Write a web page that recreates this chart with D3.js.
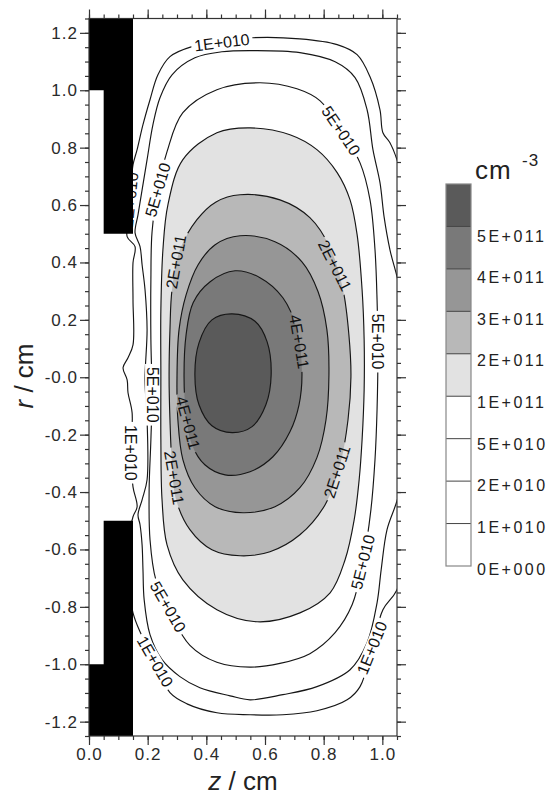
<!DOCTYPE html>
<html>
<head>
<meta charset="utf-8">
<script src="https://cdn.jsdelivr.net/npm/d3@7"></script>
<style>
  html, body { margin: 0; padding: 0; background: #fff; }
  svg { display: block; }
  text { font-family: "Liberation Sans", Arial, Helvetica, sans-serif; }
</style>
</head>
<body>
<svg id="chart" width="552" height="797"></svg>
<script>
// ---- Axis ticks ----
const zTicks = [0, 0.2, 0.4, 0.6, 0.8, 1.0];
const zTickLabels = ["0.0", "0.2", "0.4", "0.6", "0.8", "1.0"];
const rTicks = [-1.2, -1.0, -0.8, -0.6, -0.4, -0.2, 0, 0.2, 0.4, 0.6, 0.8, 1.0, 1.2];
const rTickLabels = ["-1.2", "-1.0", "-0.8", "-0.6", "-0.4", "-0.2", "-0.0", "0.2", "0.4", "0.6", "0.8", "1.0", "1.2"];

// ---- Density levels (cm^-3) and colour key ----
const legendLevels = [0, 1e10, 2e10, 5e10, 1e11, 2e11, 3e11, 4e11, 5e11];
const legendLabels = ["0E+000", "1E+010", "2E+010", "5E+010", "1E+011", "2E+011", "3E+011", "4E+011", "5E+011"];
const shadeSteps = [1e11, 2e11, 3e11, 4e11, 5e11];
const shades = ["#ffffff", "#e2e2e2", "#b8b8b8", "#969696", "#797979", "#5a5a5a"];

// ---- Iso-density contours, [z, r] in cm ----
const c1e10 = [[0.559,1.183],[0.719,1.179],[0.846,1.159],[0.914,1.124],[0.958,1.047],[0.992,0.932],[1.002,0.852],[1.026,0.817],[1.050,0.758],[1.129,0.444],[1.146,0.002],[1.129,-0.427],[1.050,-0.740],[1.002,-0.810],[0.965,-0.943],[0.924,-1.078],[0.880,-1.124],[0.777,-1.162],[0.661,-1.176],[0.549,-1.176],[0.436,-1.169],[0.334,-1.138],[0.276,-1.099],[0.225,-0.991],[0.174,-0.887],[0.150,-0.821],[0.133,-0.706],[0.133,-0.566],[0.150,-0.486],[0.164,-0.451],[0.150,-0.382],[0.143,-0.263],[0.147,-0.124],[0.133,-0.054],[0.130,-0.009],[0.116,0.033],[0.133,0.068],[0.150,0.113],[0.150,0.270],[0.150,0.399],[0.157,0.455],[0.130,0.490],[0.140,0.584],[0.143,0.653],[0.150,0.740],[0.164,0.793],[0.184,0.880],[0.208,0.967],[0.235,1.054],[0.276,1.117],[0.351,1.152],[0.453,1.169]];
const c2e10 = [[0.559,1.138],[0.719,1.131],[0.839,1.099],[0.907,1.044],[0.948,0.932],[0.968,0.793],[0.992,0.678],[1.006,0.559],[1.026,0.444],[1.060,0.305],[1.094,0.002],[1.077,-0.253],[1.054,-0.416],[1.016,-0.531],[0.996,-0.671],[0.982,-0.786],[0.948,-0.925],[0.890,-1.019],[0.777,-1.078],[0.661,-1.106],[0.549,-1.124],[0.481,-1.110],[0.378,-1.082],[0.310,-1.043],[0.249,-0.984],[0.208,-0.897],[0.188,-0.775],[0.184,-0.671],[0.181,-0.584],[0.174,-0.514],[0.167,-0.479],[0.181,-0.427],[0.198,-0.357],[0.198,-0.148],[0.191,-0.009],[0.198,0.166],[0.191,0.305],[0.181,0.392],[0.174,0.455],[0.157,0.503],[0.167,0.566],[0.181,0.653],[0.198,0.758],[0.218,0.880],[0.242,0.974],[0.283,1.054],[0.361,1.113],[0.453,1.134]];
const c5e10 = [[0.583,1.026],[0.709,1.005],[0.788,0.963],[0.859,0.859],[0.924,0.747],[0.958,0.618],[0.975,0.444],[0.982,0.270],[0.985,0.096],[0.982,-0.113],[0.975,-0.287],[0.961,-0.462],[0.934,-0.644],[0.897,-0.793],[0.839,-0.890],[0.753,-0.963],[0.651,-0.997],[0.549,-1.010],[0.436,-0.993],[0.344,-0.934],[0.276,-0.819],[0.228,-0.706],[0.208,-0.566],[0.205,-0.392],[0.211,-0.218],[0.215,-0.061],[0.211,0.131],[0.211,0.340],[0.215,0.507],[0.235,0.653],[0.266,0.786],[0.320,0.922],[0.436,1.002]];
const c1e11 = [[0.549,0.869],[0.685,0.845],[0.777,0.793],[0.846,0.713],[0.890,0.618],[0.914,0.497],[0.931,0.305],[0.938,0.131],[0.938,-0.044],[0.931,-0.218],[0.921,-0.357],[0.904,-0.497],[0.873,-0.636],[0.822,-0.751],[0.719,-0.821],[0.573,-0.852],[0.436,-0.810],[0.320,-0.706],[0.266,-0.584],[0.249,-0.427],[0.245,-0.218],[0.245,0.002],[0.245,0.235],[0.252,0.444],[0.269,0.601],[0.320,0.758],[0.436,0.852]];
const c2e11 = [[0.515,0.636],[0.651,0.618],[0.753,0.556],[0.822,0.451],[0.866,0.305],[0.886,0.148],[0.893,0.002],[0.883,-0.148],[0.856,-0.305],[0.805,-0.444],[0.719,-0.549],[0.617,-0.608],[0.515,-0.622],[0.419,-0.601],[0.344,-0.531],[0.297,-0.427],[0.283,-0.305],[0.276,-0.148],[0.273,0.002],[0.276,0.166],[0.283,0.305],[0.310,0.444],[0.368,0.549],[0.433,0.611]];
const c3e11 = [[0.515,0.493],[0.634,0.472],[0.726,0.402],[0.781,0.298],[0.811,0.166],[0.818,0.009],[0.808,-0.148],[0.777,-0.280],[0.719,-0.385],[0.634,-0.451],[0.525,-0.472],[0.430,-0.451],[0.361,-0.385],[0.320,-0.287],[0.303,-0.148],[0.300,0.002],[0.307,0.166],[0.331,0.287],[0.372,0.392],[0.430,0.462]];
const c4e11 = [[0.498,0.371],[0.583,0.347],[0.661,0.277],[0.709,0.166],[0.726,0.016],[0.716,-0.096],[0.685,-0.190],[0.627,-0.277],[0.549,-0.329],[0.464,-0.340],[0.395,-0.305],[0.351,-0.235],[0.331,-0.131],[0.324,0.002],[0.331,0.148],[0.355,0.260],[0.413,0.333]];
const c5e11 = [[0.488,0.221],[0.566,0.195],[0.607,0.124],[0.621,0.009],[0.603,-0.096],[0.556,-0.172],[0.488,-0.193],[0.419,-0.169],[0.375,-0.096],[0.361,0.009],[0.375,0.120],[0.419,0.200]];

const contourLevels = [1e10, 2e10, 5e10, 1e11, 2e11, 3e11, 4e11, 5e11];
const contourPaths = [c1e10, c2e10, c5e10, c1e11, c2e11, c3e11, c4e11, c5e11];

// In-line contour labels: level, anchor [z, r], text angle (deg)
const labelLevels = [1e10, 5e10, 5e10, 1e10, 2e11, 2e11, 4e11, 5e10, 5e10, 4e11, 1e10, 2e11, 2e11, 5e10, 1e10, 5e10, 1e10];
const labelAnchors = [[0.453,1.166],[0.859,0.859],[0.235,0.653],[0.140,0.618],[0.297,0.402],[0.838,0.389],[0.716,0.124],[0.982,0.124],[0.215,-0.061],[0.337,-0.159],[0.143,-0.263],[0.290,-0.350],[0.846,-0.329],[0.269,-0.800],[0.225,-0.991],[0.934,-0.644],[0.965,-0.943]];
const labelAngles = [-7, 56, -74, -84, -80, 63, 80, 90, 90, 75, 90, 80, -72, 60, 60, -76, -68];

// Electrode cross-sections, [z, r] in cm
const electrodeTop = [[0,1.25],[0.15,1.25],[0.15,0.5],[0.05,0.5],[0.05,1.0],[0,1.0]];
const electrodeBottom = [[0,-1.25],[0.15,-1.25],[0.15,-0.5],[0.05,-0.5],[0.05,-1.0],[0,-1.0]];

// ---- Drawing ----
const svg = d3.select("#chart");
const x = d3.scaleLinear().domain([0, 1.05]).range([89, 397]);
const y = d3.scaleLinear().domain([-1.25, 1.25]).range([736, 18.5]);
const shade = d3.scaleThreshold().domain(shadeSteps).range(shades);
const levelText = v => legendLabels[legendLevels.indexOf(v)];

const defs = svg.append("defs");
defs.append("clipPath").attr("id", "plotClip")
  .append("rect").attr("x", x(0)).attr("y", y(1.25))
  .attr("width", x(1.05) - x(0)).attr("height", y(-1.25) - y(1.25));

const closedLine = d3.line()
  .x(d => x(d[0])).y(d => y(d[1]))
  .curve(d3.curveCatmullRomClosed.alpha(0.5));

const plot = svg.append("g").attr("clip-path", "url(#plotClip)");

// filled bands (inner contours painted over outer ones)
plot.append("g").selectAll("path")
  .data(contourLevels.map((lv, i) => ({ lv, pts: contourPaths[i] })).filter(d => d.lv >= 1e11))
  .join("path")
  .attr("d", d => closedLine(d.pts))
  .attr("fill", d => shade(d.lv))
  .attr("stroke", "none");

// labels first so their footprints can be cut out of the lines
const labelData = labelLevels.map((lv, i) => ({ lv, p: labelAnchors[i], a: labelAngles[i] }));
const lineLayer = plot.append("g");
const labelLayer = plot.append("g");
const labels = labelLayer.selectAll("text").data(labelData).join("text")
  .attr("transform", d => `translate(${x(d.p[0])},${y(d.p[1])}) rotate(${d.a})`)
  .attr("text-anchor", "middle")
  .attr("dominant-baseline", "central")
  .attr("font-size", 16)
  .attr("fill", "#111")
  .text(d => levelText(d.lv));

const mask = defs.append("mask").attr("id", "labelGaps")
  .attr("maskUnits", "userSpaceOnUse")
  .attr("x", 0).attr("y", 0).attr("width", 552).attr("height", 797);
mask.append("rect").attr("width", 552).attr("height", 797).attr("fill", "#fff");
labels.each(function (d) {
  const w = this.getComputedTextLength() + 6;
  mask.append("rect")
    .attr("transform", `translate(${x(d.p[0])},${y(d.p[1])}) rotate(${d.a})`)
    .attr("x", -w / 2).attr("y", -7).attr("width", w).attr("height", 14)
    .attr("fill", "#000");
});

lineLayer.attr("mask", "url(#labelGaps)")
  .selectAll("path").data(contourPaths).join("path")
  .attr("d", d => closedLine(d))
  .attr("fill", "none")
  .attr("stroke", "#161616")
  .attr("stroke-width", 1.15);

// electrodes
const poly = d3.line().x(d => x(d[0])).y(d => y(d[1]));
plot.append("g").selectAll("path").data([electrodeTop, electrodeBottom]).join("path")
  .attr("d", d => poly(d) + "Z")
  .attr("fill", "#000");

// ---- Axes ----
const minorZ = d3.range(0, 1.0501, 0.05);
const minorR = d3.range(-1.25, 1.2501, 0.05);
const tickStyle = g => {
  g.select(".domain").remove();
  g.selectAll("line").attr("stroke", "#333").attr("stroke-width", 1.2);
  g.selectAll("text").attr("font-size", 17).attr("fill", "#2a2a2a")
    .attr("letter-spacing", "1px")
    .attr("font-family", "'Liberation Sans', Arial, sans-serif");
};

svg.append("g").attr("transform", `translate(${x(0)},0)`)
  .call(d3.axisLeft(y).tickValues(minorR).tickFormat("").tickSize(4)).call(tickStyle);
svg.append("g").attr("transform", `translate(${x(0)},0)`)
  .call(d3.axisLeft(y).tickValues(rTicks).tickFormat((d, i) => rTickLabels[i]).tickSize(9).tickPadding(2))
  .call(tickStyle);
svg.append("g").attr("transform", `translate(${x(1.05)},0)`)
  .call(d3.axisRight(y).tickValues(minorR).tickFormat("").tickSize(4)).call(tickStyle);
svg.append("g").attr("transform", `translate(${x(1.05)},0)`)
  .call(d3.axisRight(y).tickValues(rTicks).tickFormat("").tickSize(9)).call(tickStyle);

svg.append("g").attr("transform", `translate(0,${y(-1.25)})`)
  .call(d3.axisBottom(x).tickValues(minorZ).tickFormat("").tickSize(4)).call(tickStyle);
svg.append("g").attr("transform", `translate(0,${y(-1.25)})`)
  .call(d3.axisBottom(x).tickValues(zTicks).tickFormat((d, i) => zTickLabels[i]).tickSize(9).tickPadding(3))
  .call(tickStyle);
svg.append("g").attr("transform", `translate(0,${y(1.25)})`)
  .call(d3.axisTop(x).tickValues(minorZ).tickFormat("").tickSize(4)).call(tickStyle);
svg.append("g").attr("transform", `translate(0,${y(1.25)})`)
  .call(d3.axisTop(x).tickValues(zTicks).tickFormat("").tickSize(9)).call(tickStyle);

// frame
svg.append("rect")
  .attr("x", x(0)).attr("y", y(1.25))
  .attr("width", x(1.05) - x(0)).attr("height", y(-1.25) - y(1.25))
  .attr("fill", "none").attr("stroke", "#333").attr("stroke-width", 1.2);

// axis titles
const rTitle = svg.append("text")
  .attr("transform", `translate(33,376) rotate(-90)`)
  .attr("text-anchor", "middle").attr("font-size", 26).attr("fill", "#222");
rTitle.append("tspan").attr("font-style", "italic").text("r");
rTitle.append("tspan").text(" / cm");

const zTitle = svg.append("text")
  .attr("x", (x(0) + x(1.05)) / 2).attr("y", 790)
  .attr("text-anchor", "middle").attr("font-size", 26).attr("fill", "#222");
zTitle.append("tspan").attr("font-style", "italic").text("z");
zTitle.append("tspan").text(" / cm");

// ---- Colour key ----
const keyX = 446, keyW = 25;
const keyY = d3.scaleLinear().domain([0, legendLevels.length]).range([566, 184]);
const key = svg.append("g");
key.selectAll("rect.band").data(legendLevels).join("rect")
  .attr("class", "band")
  .attr("x", keyX).attr("width", keyW)
  .attr("y", (d, i) => keyY(i + 1)).attr("height", (d, i) => keyY(i) - keyY(i + 1))
  .attr("fill", d => shade(d));
key.selectAll("line.sep").data(legendLevels.slice(1)).join("line")
  .attr("class", "sep")
  .attr("x1", keyX).attr("x2", keyX + keyW)
  .attr("y1", (d, i) => keyY(i + 1)).attr("y2", (d, i) => keyY(i + 1))
  .attr("stroke", "#444").attr("stroke-width", 1);
key.append("rect")
  .attr("x", keyX).attr("y", keyY(legendLevels.length))
  .attr("width", keyW).attr("height", keyY(0) - keyY(legendLevels.length))
  .attr("fill", "none").attr("stroke", "#888").attr("stroke-width", 1.2);

const keyLabelY = d3.scaleLinear().domain([0, legendLabels.length - 1]).range([569, 236]);
key.selectAll("text.lab").data(legendLabels).join("text")
  .attr("class", "lab")
  .attr("x", 477).attr("y", (d, i) => keyLabelY(i))
  .attr("dominant-baseline", "central")
  .attr("font-size", 16).attr("letter-spacing", "2.5px").attr("fill", "#222")
  .text(d => d);

svg.append("text").attr("x", 475).attr("y", 179)
  .attr("font-size", 26).attr("letter-spacing", "1px").attr("fill", "#222").text("cm");
svg.append("text").attr("x", 522).attr("y", 166)
  .attr("font-size", 17).attr("letter-spacing", "1px").attr("fill", "#222").text("-3");
</script>
</body>
</html>
